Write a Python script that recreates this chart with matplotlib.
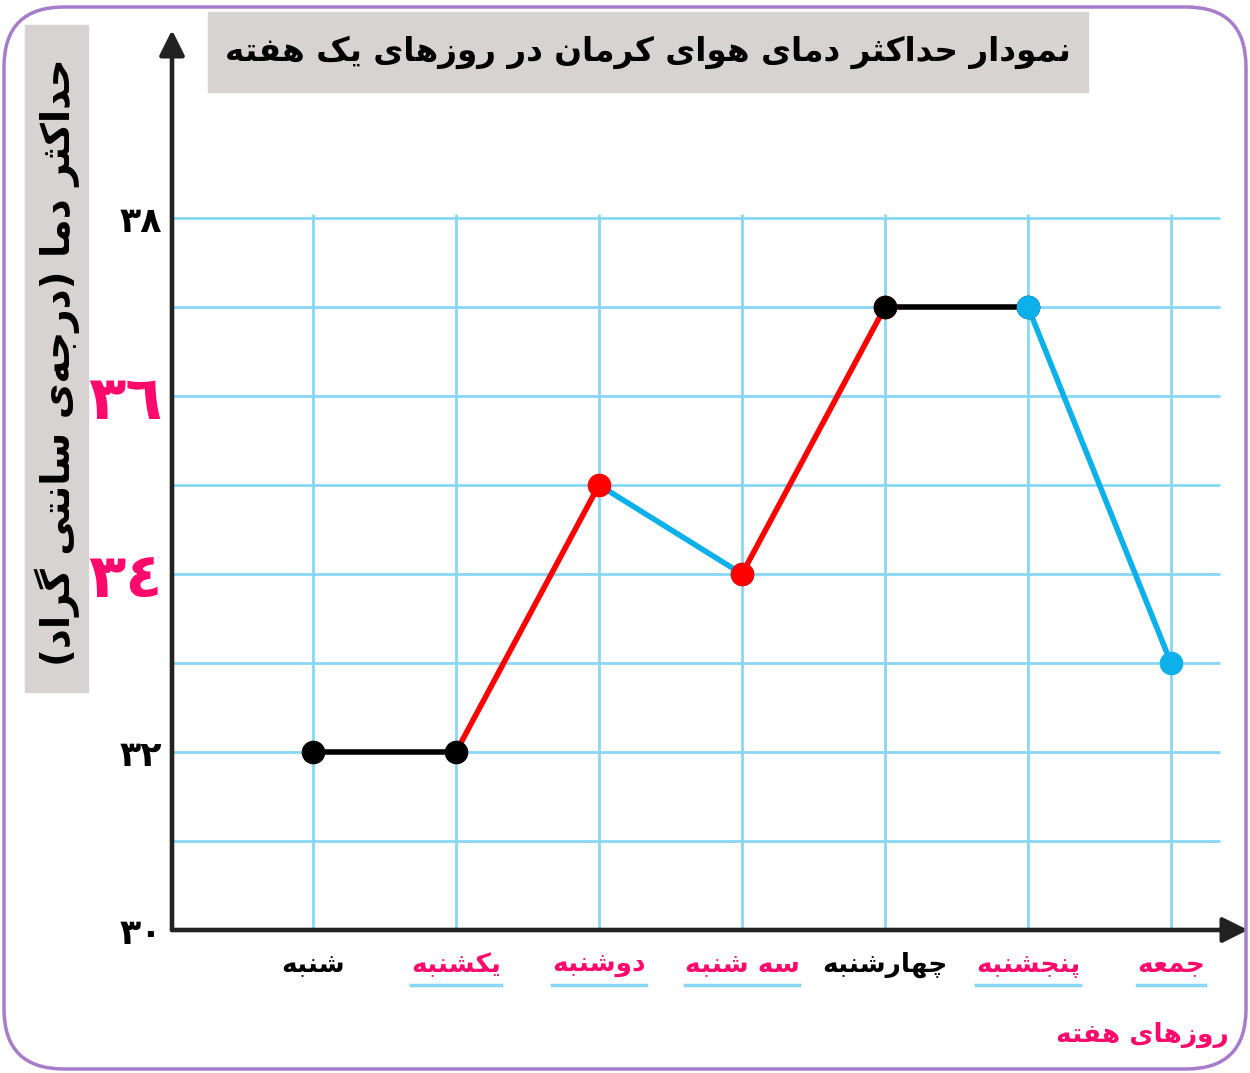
import matplotlib
matplotlib.use("Agg")
import matplotlib.pyplot as plt
from matplotlib.patches import Rectangle, FancyBboxPatch

# data
days = ["شنبه", "یکشنبه", "دوشنبه", "سه شنبه", "چهارشنبه", "پنجشنبه", "جمعه"]
max_temp = [32, 32, 35, 34, 37, 37, 33]
day_colors = ["black", "pink", "pink", "pink", "black", "pink", "pink"]
seg_colors = ["black", "red", "blue", "red", "black", "blue"]
marker_under = [None, None, None, "blue", "red", "black", None]
marker_top = ["black", "black", "red", "red", "black", "blue", "blue"]
y_ticks = [30, 32, 34, 36, 38]
y_tick_labels = ["۳۰", "۳۲", "٣٤", "٣٦", "۳۸"]
y_tick_colors = ["black", "black", "pink", "pink", "black"]

title = "نمودار حداکثر دمای هوای کرمان در روزهای یک هفته"
y_title = "حداکثر دما (درجه\u200cی سانتی گراد)"
x_title = "روزهای هفته"

COL = {"black": "#000000", "red": "#ff0000", "blue": "#0cb0ea",
       "pink": "#ff0a6c"}
GRID = "#8ad6f5"

# simple arabic shaping (matplotlib does no shaping / bidi)
FORMS = {
    "ا": (0xFE8D, 0xFE8E, None, None),
    "ب": (0xFE8F, 0xFE90, 0xFE91, 0xFE92),
    "پ": (0xFB56, 0xFB57, 0xFB58, 0xFB59),
    "ت": (0xFE95, 0xFE96, 0xFE97, 0xFE98),
    "ث": (0xFE99, 0xFE9A, 0xFE9B, 0xFE9C),
    "ج": (0xFE9D, 0xFE9E, 0xFE9F, 0xFEA0),
    "چ": (0xFB7A, 0xFB7B, 0xFB7C, 0xFB7D),
    "ح": (0xFEA1, 0xFEA2, 0xFEA3, 0xFEA4),
    "د": (0xFEA9, 0xFEAA, None, None),
    "ذ": (0xFEAB, 0xFEAC, None, None),
    "ر": (0xFEAD, 0xFEAE, None, None),
    "ز": (0xFEAF, 0xFEB0, None, None),
    "س": (0xFEB1, 0xFEB2, 0xFEB3, 0xFEB4),
    "ش": (0xFEB5, 0xFEB6, 0xFEB7, 0xFEB8),
    "ع": (0xFEC9, 0xFECA, 0xFECB, 0xFECC),
    "ف": (0xFED1, 0xFED2, 0xFED3, 0xFED4),
    "ک": (0xFB8E, 0xFB8F, 0xFB90, 0xFB91),
    "گ": (0xFB92, 0xFB93, 0xFB94, 0xFB95),
    "م": (0xFEE1, 0xFEE2, 0xFEE3, 0xFEE4),
    "ن": (0xFEE5, 0xFEE6, 0xFEE7, 0xFEE8),
    "ه": (0xFEE9, 0xFEEA, 0xFEEB, 0xFEEC),
    "و": (0xFEED, 0xFEEE, None, None),
    "ی": (0xFBFC, 0xFBFD, 0xFBFE, 0xFBFF),
}


def shape(text):
    out = []
    for i, c in enumerate(text):
        if c not in FORMS:
            if c != "\u200c":
                out.append(c)
            continue
        prev = text[i - 1] if i > 0 else None
        nxt = text[i + 1] if i + 1 < len(text) else None
        jp = prev in FORMS and FORMS[prev][2] is not None
        jn = nxt in FORMS and FORMS[c][2] is not None
        iso, fin, ini, med = FORMS[c]
        if jp and jn:
            code = med
        elif jp:
            code = fin
        elif jn:
            code = ini
        else:
            code = iso
        out.append(chr(code))
    s = "".join(out)[::-1]
    return s.translate(str.maketrans("()", ")("))


plt.rcParams["font.family"] = ["DejaVu Sans"]

fig = plt.figure(figsize=(12.5, 10.73), dpi=100)
W, H = 1250, 1073
ax = fig.add_axes([172 / W, 1 - 930 / H, 1076 / W, 900 / H])

x0 = (172 - 313) / 143
ax.set_xlim(x0, (1248 - 313) / 143)
ax.set_ylim(30, 30 + 900 / 89)
for s in ax.spines.values():
    s.set_visible(False)

# grid
ax.hlines(range(31, 39), x0, 6.34, color=GRID, lw=2, zorder=1)
ax.vlines(range(len(days)), 30, 38.05, color=GRID, lw=2, zorder=1)

# axes with arrows
arr = dict(arrowstyle="-|>", lw=3.3, color="#222222", mutation_scale=38,
           shrinkA=0, shrinkB=0)
ax.annotate("", xy=(1, 0), xytext=(0, 0), xycoords="axes fraction",
            arrowprops=arr, zorder=5)
ax.annotate("", xy=(0, 1), xytext=(0, 0), xycoords="axes fraction",
            arrowprops=arr, zorder=5)

# line segments
for i, c in enumerate(seg_colors):
    ax.plot([i, i + 1], max_temp[i:i + 2], color=COL[c], lw=4, zorder=3,
            solid_capstyle="round")
for i, c in enumerate(marker_under):
    if c:
        ax.plot(i, max_temp[i], "o", color=COL[c], ms=16, zorder=4)
for i, c in enumerate(marker_top):
    ax.plot(i, max_temp[i], "o", color=COL[c], ms=16, zorder=4.5)

# ticks
ax.set_yticks(y_ticks, y_tick_labels)
ax.tick_params(axis="y", length=0, pad=7)
for lab, c in zip(ax.get_yticklabels(), y_tick_colors):
    lab.set_color(COL[c])
    lab.set_fontweight("bold")
    if c == "pink":
        lab.set_fontsize(44)
    else:
        lab.set_fontsize(25)

ax.set_xticks(range(len(days)), [shape(d) for d in days])
ax.tick_params(axis="x", length=0, pad=16)
for lab, c in zip(ax.get_xticklabels(), day_colors):
    lab.set_color(COL[c])
    lab.set_fontsize(19)
    lab.set_fontweight("bold")

# title boxes
fig.patches.append(Rectangle((208 / W, 1 - 92 / H), 880 / W, 80 / H,
                             transform=fig.transFigure, color="#d6d3d2",
                             zorder=0))
fig.text(648 / W, 1 - 52 / H, shape(title), ha="center", va="center",
         fontsize=23.5, fontweight="bold")
fig.patches.append(Rectangle((25 / W, 1 - 692 / H), 63 / W, 667 / H,
                             transform=fig.transFigure, color="#d6d3d2",
                             zorder=0))
fig.text(57 / W, 1 - 362 / H, shape(y_title), ha="center", va="center",
         rotation=90, fontsize=28, fontweight="bold")
fig.text(1142 / W, 1 - 1035 / H, shape(x_title), ha="center", va="center",
         fontsize=19, fontweight="bold", color=COL["pink"])

# frame
fig.patches.append(FancyBboxPatch((0.04, 0.04), 12.42, 10.62,
                                  boxstyle="round,pad=0,rounding_size=0.6",
                                  transform=fig.dpi_scale_trans, fill=False,
                                  ec="#a67ccb", lw=2.5))

# light blue underline under the pink day names
fig.canvas.draw()
inv = ax.transData.inverted()
for lab, c in zip(ax.get_xticklabels(), day_colors):
    if c != "pink":
        continue
    bb = lab.get_window_extent()
    (xa, _), (xb, _) = inv.transform([(bb.x0, 0), (bb.x1, 0)])
    ax.plot([xa, xb], [29.38, 29.38], color=GRID, lw=2.5, clip_on=False,
            zorder=1)

fig.savefig("out.png", dpi=100)
